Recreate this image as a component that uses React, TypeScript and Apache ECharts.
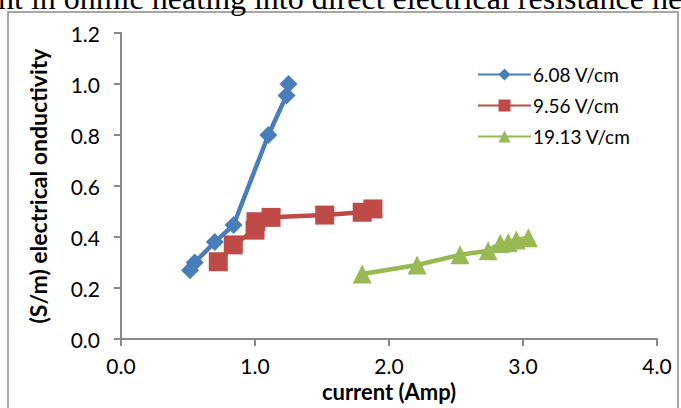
import React, { useEffect, useRef } from "react";
import * as echarts from "echarts";

const seriesNames = ["6.08 V/cm", "9.56 V/cm", "19.13 V/cm"];
const blueX = [0.515, 0.55, 0.7, 0.84, 1.1, 1.235, 1.25];
const blueY = [0.27, 0.3, 0.38, 0.447, 0.8, 0.955, 1.0];
const redX = [0.726, 0.838, 1.0, 1.007, 1.12, 1.52, 1.8, 1.88];
const redY = [0.303, 0.369, 0.427, 0.46, 0.477, 0.486, 0.497, 0.51];
const greenX = [1.8, 2.21, 2.53, 2.74, 2.83, 2.89, 2.95, 3.04];
const greenY = [0.255, 0.29, 0.33, 0.346, 0.375, 0.378, 0.388, 0.397];
const xTicks = [0, 1, 2, 3, 4];
const yTicks = [0, 0.2, 0.4, 0.6, 0.8, 1.0, 1.2];
const xTitle = "current (Amp)";
const yTitle = "(S/m) electrical onductivity";
const topText = "nt in ohmic heating into direct electrical resistance he";

const colors = ["#4A7EBB", "#BE4B48", "#98B954"];
const symbols = ["diamond", "rect", "triangle"];
const symbolSizes = [18, 19, 19];

const zip = (xs: number[], ys: number[]) => xs.map((x, i) => [x, ys[i]]);

export default function App() {
  const ref = useRef<HTMLDivElement>(null);
  useEffect(() => {
    document.body.style.margin = "0";
    const chart = echarts.init(ref.current!, null, { renderer: "svg" });
    const font = "Lato, 'Liberation Sans', sans-serif";
    const data = [zip(blueX, blueY), zip(redX, redY), zip(greenX, greenY)];
    chart.setOption({
      animation: false,
      backgroundColor: "#ffffff",
      grid: { left: 121, right: 24, top: 33, bottom: 69 },
      xAxis: {
        type: "value",
        min: xTicks[0],
        max: xTicks[xTicks.length - 1],
        interval: 1,
        name: xTitle,
        nameLocation: "middle",
        nameGap: 41,
        nameTextStyle: { fontFamily: font, fontWeight: "bold", fontSize: 22, color: "#000" },
        axisLine: { lineStyle: { color: "#888888", width: 2 } },
        axisTick: { show: true, inside: false, length: 7, lineStyle: { color: "#888888", width: 2 } },
        splitLine: { show: false },
        axisLabel: { margin: 16, fontFamily: font, fontSize: 21, color: "#000", formatter: (v: number) => v.toFixed(1) },
      },
      yAxis: {
        type: "value",
        min: yTicks[0],
        max: yTicks[yTicks.length - 1],
        interval: 0.2,
        name: yTitle,
        nameLocation: "middle",
        nameGap: 72,
        nameRotate: 90,
        nameTextStyle: { fontFamily: font, fontWeight: "bold", fontSize: 23, color: "#000" },
        axisLine: { show: true, lineStyle: { color: "#888888", width: 2 } },
        axisTick: { show: true, inside: false, length: 7, lineStyle: { color: "#888888", width: 2 } },
        splitLine: { show: false },
        axisLabel: { margin: 21, fontFamily: font, fontSize: 21, color: "#000", formatter: (v: number) => v.toFixed(1) },
      },
      legend: {
        orient: "vertical",
        left: 472,
        top: 60,
        itemWidth: 53,
        itemHeight: 15,
        itemGap: 12,
        textStyle: { fontFamily: font, fontSize: 19, color: "#000", padding: [0, 0, 0, -3] },
        data: seriesNames,
      },
      series: seriesNames.map((name, i) => ({
        name,
        type: "line",
        data: data[i],
        symbol: symbols[i],
        symbolSize: symbolSizes[i],
        color: colors[i],
        lineStyle: { width: 4.5, color: colors[i] },
        itemStyle: { color: colors[i] },
        z: 2 + i,
      })),
      graphic: [
        {
          type: "rect",
          shape: { x: 8, y: 12, width: 670, height: 420 },
          style: { fill: "none", stroke: "#8a8a8a", lineWidth: 1.5 },
          silent: true,
          z: -1,
        },
        {
          type: "text",
          x: -2,
          y: -18,
          style: {
            text: topText,
            fontFamily: "'Liberation Serif', 'Times New Roman', serif",
            fontSize: 32,
            fill: "#000",
            verticalAlign: "top",
          },
          silent: true,
        },
      ],
    });
    return () => chart.dispose();
  }, []);
  return <div ref={ref} style={{ width: 681, height: 408 }} />;
}
